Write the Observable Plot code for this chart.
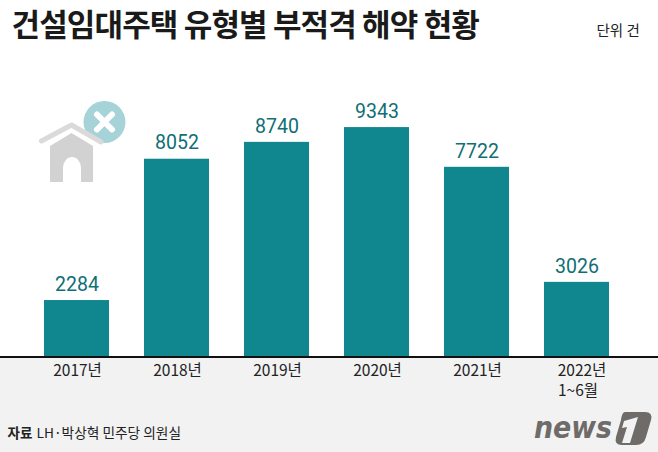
<!DOCTYPE html>
<html><head><meta charset="utf-8">
<script src="https://cdn.jsdelivr.net/npm/d3@7"></script>
<script src="https://cdn.jsdelivr.net/npm/@observablehq/plot@0.6"></script>
<style>
html,body{margin:0;padding:0;background:#fff}
#wrap{position:relative;width:658px;height:452px;overflow:hidden}
#wrap>svg{position:absolute;left:0;top:0}
#chart svg{display:block}
</style></head><body>
<div id="wrap"><div id="chart"></div>
<svg width="658" height="452" viewBox="0 0 658 452" style="pointer-events:none">
  <circle cx="104.500" cy="122" r="21" fill="#a6d3d8"/>
  <path d="M97 114.500L112 129.500M112 114.500L97 129.500" stroke="#fff" stroke-width="6" stroke-linecap="round"/>
  <path d="M50 182V146L71.500 133L93 146V182H81V168A9 11 0 0 0 63 168V182Z" fill="#d2d2d2"/>
  <path d="M41.500 141L71.500 125L101 142" fill="none" stroke="#dbdad9" stroke-width="5" stroke-linecap="round" stroke-linejoin="round"/>
  <text x="534" y="438" font-family="'DejaVu Sans'" font-weight="700" font-style="italic" font-size="31" fill="#6e6b69" textLength="78" lengthAdjust="spacingAndGlyphs">news</text>
  <path d="M625 412H645Q653 412 651 420L646 437Q644 445 636 445H622Q614 445 616 437L621 420Q622 412 625 412Z" fill="#6e6b69"/>
  <path d="M624 421L638 417L630 443H622L627 427L622 428Z" fill="#f2f2f2"/>
</svg></div>
<script>
const years = ["2017","2018","2019","2020","2021","2022"];
const counts = [2284,8052,8740,9343,7722,3026];
const tickLabels = ["2017년","2018년","2019년","2020년","2021년","2022년"];
const lastTickNote = "1~6월";
const titleText = "건설임대주택 유형별 부적격 해약 현황";
const unitText = "단위 건";
const sourceHead = "자료";
const sourceBody = "LH·박상혁 민주당 의원실";
const table = years.map((y,i)=>({year:y,count:counts[i]}));
const KR = "'Noto Sans CJK KR'";
const label = new Map(years.map((y,i)=>[y,tickLabels[i]]));
const tickOpts = {tickSize:0,tickPadding:8,fontSize:15.500,fontFamily:KR,fill:"#222",label:null,tickFormat:d=>label.get(d)};
const chart = Plot.plot({
  width:658,height:452,marginTop:0,marginBottom:96,marginLeft:9,marginRight:14,
  style:{background:"linear-gradient(#fff 357px,#f2f2f2 357px)",fontFamily:KR,overflow:"visible"},
  x:{domain:years,padding:0.35,round:false,label:null},
  y:{domain:[0,14530],axis:null},
  marks:[
    Plot.barY(table,{x:"year",y:"count",fill:"#10868e"}),
    Plot.ruleY([0],{stroke:"#111",strokeWidth:2,insetLeft:-9,insetRight:-14,dy:0.500}),
    Plot.text(table,{x:"year",y:"count",text:d=>String(d.count),dy:-16,fill:"#0f6f75",fontSize:19.500,fontFamily:"Roboto"}),
    Plot.axisX({...tickOpts,ticks:years.slice(0,5),dx:0.500}),
    Plot.axisX({...tickOpts,ticks:years.slice(5),dx:5}),
    Plot.text([lastTickNote],{x:()=>years[5],frameAnchor:"top",dy:384,dx:-19,text:d=>d,fontSize:15.500,fill:"#222",textAnchor:"start",fontFamily:KR}),
    Plot.text([titleText],{frameAnchor:"top-left",dx:2,dy:13,text:d=>d,fontSize:31,fontWeight:700,fill:"#1a1a1a",textAnchor:"start",fontFamily:KR}),
    Plot.text([unitText],{frameAnchor:"top-left",dx:587,dy:25,text:d=>d,fontSize:14.500,fill:"#222",textAnchor:"start",fontFamily:KR}),
    Plot.text([sourceHead],{frameAnchor:"top-left",dx:-2,dy:428,text:d=>d,fontSize:13.500,fontWeight:700,fill:"#222",textAnchor:"start",fontFamily:KR}),
    Plot.text([sourceBody],{frameAnchor:"top-left",dx:27,dy:428,text:d=>d,fontSize:13.700,fill:"#222",textAnchor:"start",fontFamily:KR})
  ]
});
for (const t of chart.querySelectorAll("text")) if (t.textContent === titleText) t.style.letterSpacing = "-0.85px";
document.getElementById("chart").append(chart);
</script></body></html>
